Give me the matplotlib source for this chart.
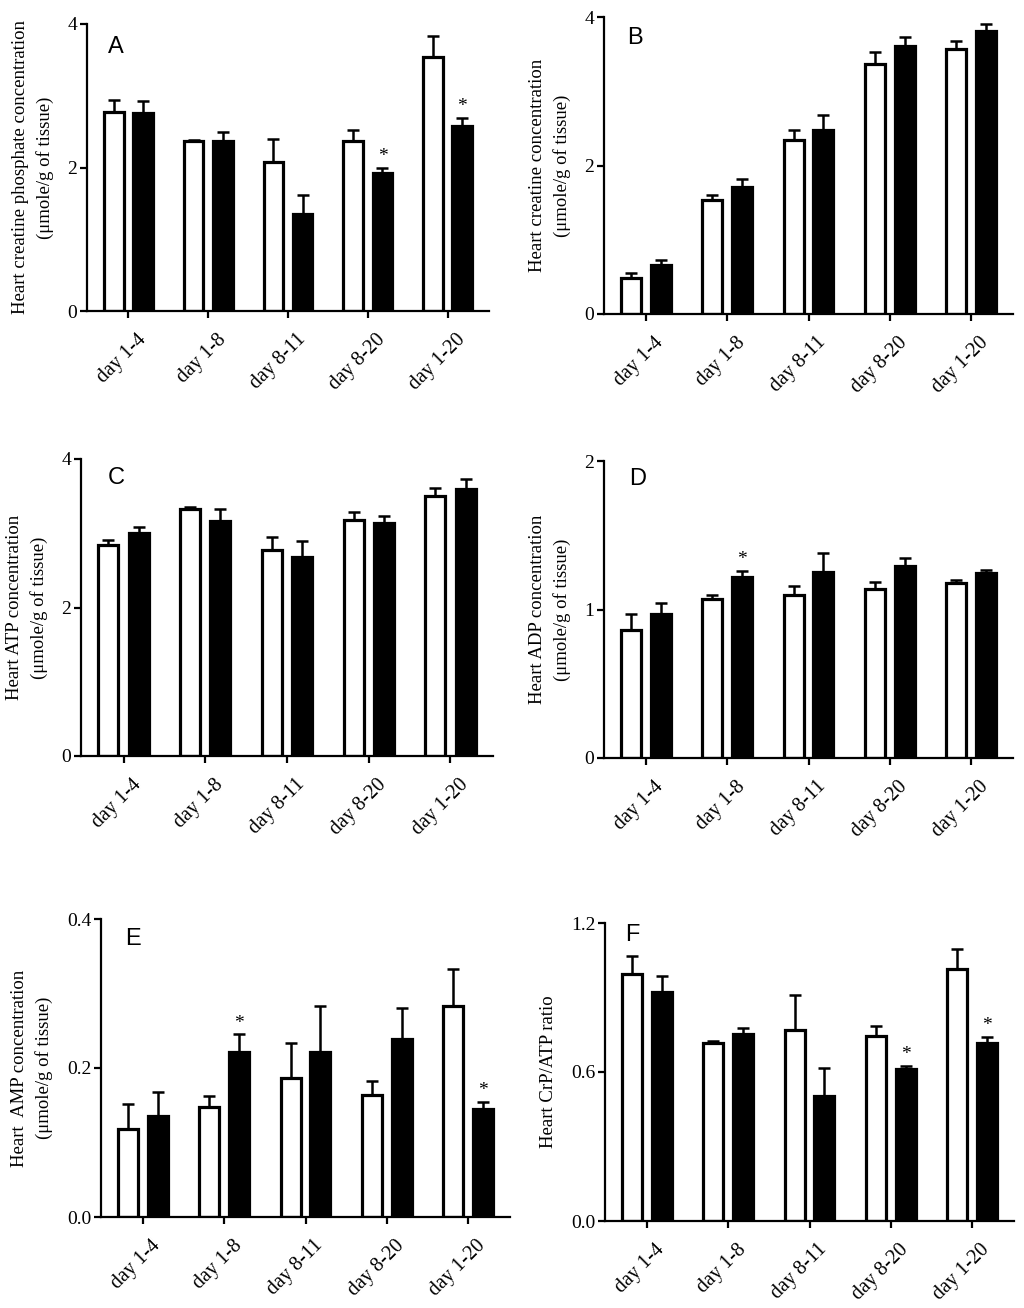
import numpy as np
import matplotlib
matplotlib.use("Agg")
import matplotlib.pyplot as plt
from matplotlib.transforms import ScaledTranslation

## Données
groupes = ['day 1-4', 'day 1-8', 'day 8-11', 'day 8-20', 'day 1-20']

A_blanc = [2.78, 2.37, 2.08, 2.37, 3.54]
A_blanc_err = [0.16, 0.01, 0.32, 0.15, 0.29]
A_noir = [2.76, 2.37, 1.35, 1.93, 2.58]
A_noir_err = [0.16, 0.12, 0.27, 0.06, 0.11]
A_etoiles = [3, 4]

B_blanc = [0.48, 1.53, 2.35, 3.37, 3.57]
B_blanc_err = [0.07, 0.07, 0.13, 0.16, 0.11]
B_noir = [0.66, 1.71, 2.48, 3.61, 3.81]
B_noir_err = [0.07, 0.11, 0.20, 0.12, 0.09]
B_etoiles = []

C_blanc = [2.84, 3.32, 2.77, 3.18, 3.50]
C_blanc_err = [0.07, 0.04, 0.18, 0.11, 0.11]
C_noir = [3.01, 3.16, 2.68, 3.14, 3.60]
C_noir_err = [0.07, 0.16, 0.21, 0.09, 0.13]
C_etoiles = []

D_blanc = [0.86, 1.07, 1.10, 1.14, 1.18]
D_blanc_err = [0.11, 0.03, 0.056, 0.045, 0.016]
D_noir = [0.967, 1.216, 1.252, 1.295, 1.247]
D_noir_err = [0.074, 0.043, 0.128, 0.053, 0.016]
D_etoiles = [1]

E_blanc = [0.1175, 0.1475, 0.187, 0.164, 0.283]
E_blanc_err = [0.0345, 0.0145, 0.046, 0.018, 0.05]
E_noir = [0.136, 0.221, 0.221, 0.239, 0.145]
E_noir_err = [0.032, 0.024, 0.062, 0.041, 0.009]
E_etoiles = [1, 4]

F_blanc = [0.993, 0.715, 0.770, 0.745, 1.016]
F_blanc_err = [0.075, 0.011, 0.14, 0.04, 0.079]
F_noir = [0.923, 0.752, 0.502, 0.613, 0.718]
F_noir_err = [0.065, 0.025, 0.114, 0.013, 0.023]
F_etoiles = [3, 4]

## Mise en page (pixels : gauche, droite, haut, bas)
W, H = 1024, 1308
panneaux = [
    ('A', (87, 489, 24, 311), A_blanc, A_blanc_err, A_noir, A_noir_err, A_etoiles,
     [0, 2, 4], ['0', '2', '4'], 'Heart creatine phosphate concentration\n(\u03bcmole/g of tissue)', (0.052, 0.958)),
    ('B', (604, 1013, 17, 314), B_blanc, B_blanc_err, B_noir, B_noir_err, B_etoiles,
     [0, 2, 4], ['0', '2', '4'], 'Heart creatine concentration\n(\u03bcmole/g of tissue)', (0.056, 0.966)),
    ('C', (81, 493, 459, 756), C_blanc, C_blanc_err, C_noir, C_noir_err, C_etoiles,
     [0, 2, 4], ['0', '2', '4'], 'Heart ATP concentration\n(\u03bcmole/g of tissue)', (0.066, 0.973)),
    ('D', (604, 1013, 461, 758), D_blanc, D_blanc_err, D_noir, D_noir_err, D_etoiles,
     [0, 1, 2], ['0', '1', '2'], 'Heart ADP concentration\n(\u03bcmole/g of tissue)', (0.061, 0.976)),
    ('E', (101, 510, 919, 1217), E_blanc, E_blanc_err, E_noir, E_noir_err, E_etoiles,
     [0, 0.2, 0.4], ['0.0', '0.2', '0.4'], 'Heart  AMP concentration\n(\u03bcmole/g of tissue)', (0.059, 0.97)),
    ('F', (605, 1014, 923, 1221), F_blanc, F_blanc_err, F_noir, F_noir_err, F_etoiles,
     [0, 0.6, 1.2], ['0.0', '0.6', '1.2'], 'Heart CrP/ATP ratio', (0.05, 0.995)),
]

serif = ['Liberation Serif', 'DejaVu Serif']
fig = plt.figure(figsize=(W / 100, H / 100), dpi=100)

largeur = 0.245
decal = 0.184
x = np.arange(len(groupes))

for (lettre, (g, d, h, b), blanc, blanc_err, noir, noir_err, etoiles,
     yticks, ylabels, ytitre, (lx, ly)) in panneaux:
    ax = fig.add_axes([g / W, 1 - b / H, (d - g) / W, (b - h) / H])

    ax.bar(x - decal, blanc, largeur, color='white', edgecolor='black', linewidth=2.3, zorder=2)
    ax.bar(x + decal, noir, largeur, color='black', edgecolor='black', linewidth=2.3, zorder=2)
    ax.errorbar(x - decal, blanc, yerr=[np.zeros(5), blanc_err], fmt='none', ecolor='black',
                elinewidth=1.8, capsize=4.5, capthick=1.8, zorder=1)
    ax.errorbar(x + decal, noir, yerr=[np.zeros(5), noir_err], fmt='none', ecolor='black',
                elinewidth=1.8, capsize=4.5, capthick=1.8, zorder=1)

    for i in etoiles:
        ax.annotate('*', (x[i] + decal, noir[i] + noir_err[i]), xytext=(0, 2),
                    textcoords='offset points', ha='center', va='bottom',
                    fontsize=14, family=serif)

    ax.set_xlim(-0.52, 4.52)
    ax.set_ylim(0, yticks[-1])
    ax.set_yticks(yticks)
    ax.set_yticklabels(ylabels, family=serif, fontsize=14)
    ax.set_xticks(x)
    ax.set_xticklabels([])
    # étiquettes de x posées à la main, un peu à droite du trait comme sur l'original
    decalage = ax.get_xaxis_transform() + ScaledTranslation(8 / 100, -19 / 100, fig.dpi_scale_trans)
    for i, nom in enumerate(groupes):
        ax.text(x[i], 0, nom, transform=decalage, rotation=45, ha='right', va='top',
                rotation_mode='anchor', family=serif, fontsize=14.5)
    ax.set_ylabel(ytitre, family=serif, fontsize=13.5, linespacing=1.5, labelpad=10)

    ax.spines['top'].set_visible(False)
    ax.spines['right'].set_visible(False)
    ax.spines['left'].set_linewidth(1.6)
    ax.spines['bottom'].set_linewidth(1.6)
    ax.tick_params(axis='both', width=1.6, length=5, direction='out')
    ax.tick_params(axis='y', pad=2)

    ax.text(lx, ly, lettre, transform=ax.transAxes, ha='left', va='top',
            fontsize=17, family=['Liberation Sans', 'DejaVu Sans'])

fig.savefig('out.png', dpi=100)
